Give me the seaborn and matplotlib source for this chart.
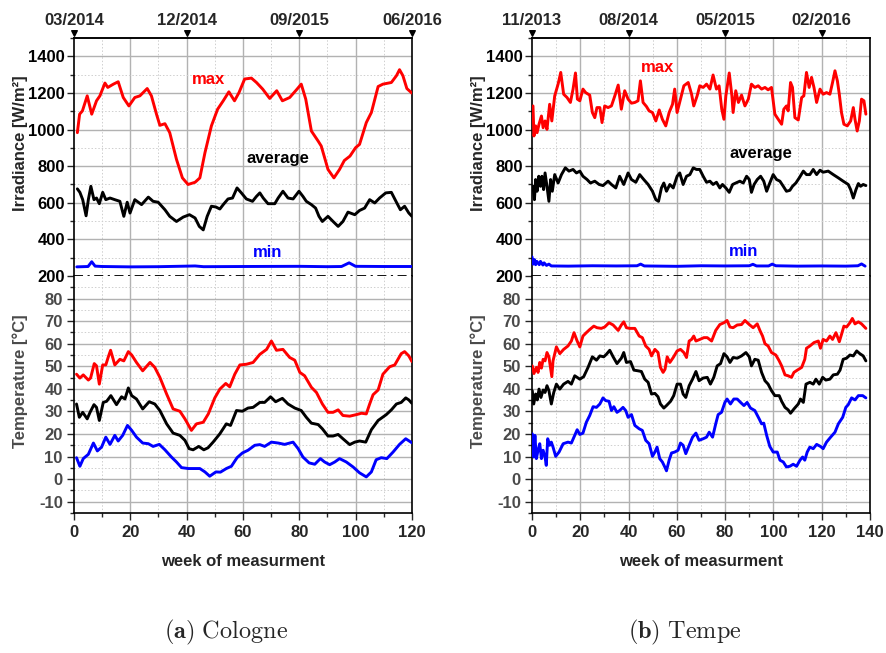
import matplotlib
matplotlib.use("Agg")
import numpy as np
import matplotlib.pyplot as plt
import seaborn as sns
from matplotlib.ticker import FixedLocator

# ---------------- Cologne ----------------
col_dates_wk = [0, 40, 80, 120]
col_dates = ["03/2014", "12/2014", "09/2015", "06/2016"]

col_irr_max_wk = [1.2, 2, 3, 4.7, 6.3, 8, 9.2, 11, 12, 14, 15.7, 17.5, 19.5, 21.6, 23.4, 26, 27.5, 29.3, 30.5, 32.3,
                  34, 36.4, 38.5, 40.5, 43, 44.7, 46.5, 48.8, 51, 53, 55, 57, 58.6, 60.6, 63, 64.8, 67, 69.5, 72, 74,
                  76.6, 79, 80.7, 82.3, 84.3, 86.7, 87.8, 90.2, 92.3, 94.3, 96, 98, 100, 101.4, 103.8, 105.6, 108,
                  109.7, 112.7, 114.5, 115.6, 116.8, 118.2, 120]
col_irr_max = [983, 1084, 1102, 1184, 1084, 1157, 1184, 1254, 1230, 1248, 1261, 1175, 1129, 1175, 1184, 1224, 1184,
               1084, 1023, 1032, 983, 837, 736, 700, 712, 736, 873, 1020, 1111, 1157, 1206, 1157, 1202, 1276, 1281,
               1257, 1221, 1170, 1212, 1157, 1175, 1217, 1248, 1166, 992, 937, 910, 782, 736, 782, 831, 855, 901,
               919, 1038, 1093, 1235, 1248, 1257, 1294, 1327, 1294, 1224, 1199]

col_irr_avg_wk = [1.2, 2.1, 3.1, 4.3, 5.1, 6, 7.1, 8, 9, 10.2, 11.3, 12.8, 14.5, 16.3, 17.7, 18.9, 19.9, 21.6, 24,
                  26.4, 28.1, 29.9, 32.3, 34, 36.4, 38.8, 41, 43, 44.5, 45.9, 47.3, 48.8, 50.4, 51.8, 53, 54.7, 56.3,
                  57.9, 59.5, 61.2, 63.4, 64.8, 66, 67.2, 68.9, 71.3, 72.5, 74.2, 76, 77.8, 79.9, 81.3, 82.5, 84.3,
                  85.8, 87, 88.2, 90.2, 92, 93.8, 95.5, 97.3, 99.7, 101.4, 103.2, 105, 106.8, 108.5, 110.7, 112.7,
                  114.5, 115.9, 117.4, 118.9, 120]
col_irr_avg = [676, 657, 617, 529, 617, 690, 617, 626, 595, 657, 617, 626, 617, 608, 526, 603, 544, 617, 590, 631,
               608, 603, 562, 526, 498, 522, 535, 517, 471, 452, 526, 581, 577, 566, 590, 621, 626, 681, 653, 621,
               608, 635, 654, 626, 595, 595, 626, 663, 626, 621, 663, 635, 608, 590, 571, 526, 498, 526, 498, 471,
               498, 549, 535, 558, 571, 617, 599, 626, 654, 657, 603, 562, 581, 544, 526]

col_irr_min_wk = [1, 5, 6.3, 7.5, 10, 20, 30, 40, 43, 46, 60, 80, 90, 95, 97.7, 100, 110, 120]
col_irr_min = [250, 252, 278, 254, 252, 250, 251, 254, 255, 251, 252, 253, 251, 252, 272, 253, 252, 252]

col_t_max_wk = [0.9, 2.1, 3.3, 5.1, 5.9, 7.2, 8, 9, 10.2, 11.3, 12.2, 13, 14.5, 16.3, 17.7, 19.3, 20.5, 22.2, 24.4,
                27, 28.7, 30.5, 32.9, 35.2, 37.6, 39.4, 41.7, 43.5, 45.9, 47.7, 50, 51.8, 53.9, 55.3, 57.1, 58.9,
                61.2, 63.6, 66, 68.4, 70.1, 71.9, 74.2, 76.6, 78.4, 80.2, 81.9, 84.3, 86.1, 88.2, 90.2, 92, 93.8,
                95.5, 97.9, 100.3, 102.1, 103.8, 105, 106.2, 108, 109.7, 112.1, 113.9, 116.2, 117.4, 118.9, 120]
col_t_max = [46.5, 44.8, 46.2, 43.9, 44.8, 51.2, 50.2, 42.1, 50.6, 50.6, 54.2, 57.1, 50.6, 53.1, 52.4, 56.5, 55,
             51.7, 48, 51.7, 49.5, 45.1, 37.7, 31.1, 30.1, 26.7, 21.6, 24.5, 25.2, 28.9, 36, 39.9, 42.4, 40.9, 46.5,
             50.6, 50.9, 51.7, 55.3, 57.5, 61.2, 57.1, 57.5, 53.9, 52.7, 47.3, 45.8, 40.7, 38.4, 33.3, 29.6, 29.6,
             30.7, 28.2, 27.9, 28.6, 29.2, 28.9, 33.3, 37.4, 39.5, 46.5, 49.8, 50.6, 55.6, 56.5, 54.6, 52.1]

col_t_avg_wk = [0.9, 1.9, 3.1, 4.7, 5.7, 7.1, 8, 9, 10.4, 11.6, 13.1, 15.1, 16.9, 18.1, 19.3, 20.5, 22.2, 24.4, 26.7,
                28.7, 30.5, 32.9, 35.2, 37.6, 39.4, 40.9, 42.3, 44.3, 46.1, 47.6, 49.4, 51.8, 54.1, 55.6, 57.7, 59.8,
                61.8, 63.6, 66, 67.7, 69.8, 71.6, 74, 76, 78.4, 80.7, 82.5, 84.3, 86.7, 88.2, 90.2, 92, 93.8, 95.5,
                97.9, 99.7, 101.4, 103.6, 105.6, 108, 110.9, 112.7, 114.5, 116.2, 117.8, 118.9, 120]
col_t_avg = [33.3, 27.4, 29.6, 26.7, 29.6, 33, 31.8, 26, 34, 34.5, 37, 33, 36.5, 35.5, 40.4, 37, 35.5, 31.1, 34.3,
             33.3, 30.4, 24.5, 20.4, 19.4, 17.2, 13.5, 13, 14.5, 13, 13.9, 16.4, 20.1, 24.5, 23.8, 30.4, 30.1, 31.5,
             31.8, 34, 34, 36.5, 34.3, 35.8, 33.3, 31.5, 30.4, 27.4, 24.8, 24.2, 22.3, 19.1, 19.1, 19.8, 17.9, 15.3,
             16.4, 16.9, 16.4, 21.9, 26, 28.6, 30.7, 33.3, 34, 36, 35.1, 33.6]

col_t_min_wk = [0.9, 2.1, 3.3, 5.1, 6.9, 8.3, 9.8, 11.3, 12.8, 14.5, 15.7, 17.3, 19, 20.5, 22.2, 24.4, 26.4, 28.1,
                30.3, 32.3, 34.6, 36.4, 38.2, 40.6, 42.3, 44.7, 46.5, 48.2, 50.4, 52, 54.1, 55.9, 57.9, 59.8, 61.8,
                64.2, 66, 67.7, 70.1, 72.5, 74.8, 77.8, 79.6, 81.3, 83.5, 85.5, 87.5, 89, 90.8, 92.6, 94.3, 96.7,
                99.1, 101.4, 103.8, 105.6, 107.3, 109.1, 111.1, 113.3, 115.6, 117.8, 120]
col_t_min = [9.5, 5.7, 9.1, 11, 16, 12.5, 14.2, 18.6, 15.4, 19.4, 16.9, 19.4, 23.8, 21.6, 18.6, 16, 15.7, 14.5, 15.4,
             13, 9.8, 7.6, 5.1, 4.7, 4.7, 4.7, 3.2, 1.3, 3.2, 3.1, 4.7, 5.7, 9.5, 11.6, 12.8, 15, 15.3, 14.5, 16.4,
             16, 15.4, 16.4, 13.5, 9.8, 7.2, 6.6, 9.1, 7.6, 6.4, 7.6, 9.1, 7.6, 5.4, 2.8, 1, 3.2, 8.6, 9.5, 9.1, 12,
             15.4, 17.9, 16.1]

# ---------------- Tempe ----------------
tem_dates_wk = [0, 40, 80, 120]
tem_dates = ["11/2013", "08/2014", "05/2015", "02/2016"]

tem_irr_max_wk = [0.4, 0.8, 1.5, 2.1, 2.9, 3.9, 4.6, 5.4, 6.2, 7.3, 8.2, 9.4, 10.8, 11.9, 13.1, 14.5, 15.9, 17, 18,
                  18.8, 19.8, 21.1, 22.2, 23.9, 25, 26, 26.9, 28.1, 29, 30.1, 31.5, 32.9, 34.3, 35.7, 37, 38.4, 39.8,
                  41.2, 42.6, 43.9, 44.9, 46, 47.4, 48.5, 49.9, 51.3, 52.7, 54, 55.4, 56.8, 58.2, 59.1, 60.1, 61.5,
                  62.9, 64.7, 66.1, 67, 68.4, 69.5, 70.9, 72.3, 73.7, 75, 76.4, 77.5, 78.6, 79.5, 80.3, 81.7, 82.8,
                  83.3, 84.4, 85.5, 86.8, 88.2, 89.6, 90.9, 92.3, 93.7, 95.1, 96.5, 97.8, 99.2, 100.6, 102, 103.4,
                  104.3, 105.4, 106.1, 107.1, 107.9, 108.9, 110.3, 111.7, 112.6, 113.7, 114.8, 115.8, 116.8, 117.9,
                  119.3, 120.6, 122, 123.4, 124.5, 125.5, 126.5, 127.3, 128.2, 129.2, 130.6, 132, 133.1, 133.8,
                  134.7, 135.6, 136.5, 137.5, 138.3]
tem_irr_max = [1129, 965, 1020, 983, 1029, 1074, 1010, 1047, 1001, 1138, 1047, 1184, 1248, 1312, 1193, 1175, 1148,
               1221, 1309, 1166, 1157, 1221, 1202, 1188, 1093, 1065, 1120, 1120, 1038, 1129, 1120, 1129, 1184, 1243,
               1111, 1212, 1166, 1144, 1148, 1157, 1266, 1148, 1126, 1102, 1093, 1047, 1107, 1056, 1020, 1093, 1138,
               1221, 1093, 1166, 1239, 1257, 1193, 1129, 1184, 1239, 1230, 1248, 1221, 1298, 1221, 1239, 1111, 1056,
               1184, 1309, 1184, 1093, 1212, 1148, 1188, 1129, 1166, 1248, 1230, 1239, 1221, 1230, 1217, 1230, 1084,
               1056, 1029, 1111, 1129, 1102, 1257, 1230, 1065, 1052, 1175, 1184, 1312, 1230, 1285, 1230, 1148, 1221,
               1193, 1202, 1193, 1257, 1321, 1266, 1193, 1093, 1029, 1020, 1047, 1120, 1056, 992, 1047, 1166, 1157,
               1084]

tem_irr_avg_wk = [0.4, 1, 1.5, 2.1, 2.8, 3.5, 4.1, 4.8, 5.4, 6.2, 7, 7.7, 8.4, 9.4, 10.8, 12.2, 13.8, 15.3, 17, 18.4,
                  19.8, 21.1, 22.8, 24.2, 26, 27.8, 29.4, 31.5, 32.9, 34.7, 36.3, 38, 39.8, 41.2, 43, 44.6, 46.3,
                  48.1, 49.9, 51.3, 52.4, 53.6, 54.6, 55.7, 57.1, 58.5, 60.1, 61.2, 62.6, 64, 65.4, 66.8, 68.1, 69.5,
                  70.9, 72.3, 73.7, 75, 76.4, 77.8, 78.9, 80.3, 81.7, 83.1, 84.4, 86.1, 87.5, 88.9, 90, 90.9, 92,
                  93.3, 94.7, 96, 97.2, 98.5, 99.9, 101.3, 102.7, 104.1, 105.4, 106.8, 107.9, 109.3, 110.7, 112.4,
                  113.7, 115.1, 116.5, 117.9, 119.3, 120.6, 122.7, 124.8, 126.9, 128.9, 131, 132, 133.1, 134.2,
                  135.2, 136.1, 137.2, 138.3]
tem_irr_avg = [690, 617, 727, 663, 745, 690, 745, 672, 763, 690, 608, 727, 663, 754, 708, 754, 791, 773, 782, 763,
               773, 745, 727, 708, 718, 700, 694, 718, 700, 681, 745, 700, 763, 727, 712, 754, 727, 700, 663, 617,
               608, 681, 708, 663, 700, 681, 745, 763, 700, 745, 754, 791, 782, 782, 745, 712, 718, 700, 712, 681,
               700, 681, 657, 700, 708, 718, 708, 745, 727, 657, 700, 727, 745, 718, 663, 708, 754, 727, 718, 690,
               663, 668, 690, 708, 736, 773, 754, 754, 782, 754, 778, 767, 773, 754, 736, 718, 700, 672, 626, 672,
               705, 690, 700, 694]

tem_irr_min_wk = [0, 0.5, 1, 1.5, 2, 3, 3.5, 4.5, 5, 6, 7, 8, 15, 25, 35, 43.5, 45, 46.5, 60, 70, 80, 90, 91.5, 93,
                  98, 99.5, 101, 110, 120, 130, 135, 136.5, 138]
tem_irr_min = [305, 265, 290, 262, 280, 262, 280, 260, 272, 258, 265, 255, 254, 256, 255, 256, 265, 255, 253, 256,
               255, 256, 264, 255, 255, 265, 256, 254, 255, 254, 256, 266, 254]

tem_t_max_wk = [0.1, 0.8, 1.8, 2.5, 3.2, 3.9, 4.6, 5.4, 6.2, 7, 8.2, 8.7, 10.1, 11.5, 13.1, 14.9, 16.3, 17.4, 18.7,
                19.8, 21.1, 22.5, 23.9, 25.6, 26.9, 28.7, 30.1, 31.9, 33.6, 35.7, 37, 38, 39.1, 40.5, 42.6, 44.4,
                45.7, 47.1, 48.5, 49.5, 50.9, 52.2, 53.2, 54.3, 55.1, 56, 57.1, 58.5, 60.1, 61.5, 62.9, 64, 65.1,
                66.1, 67, 67.9, 69.5, 71.2, 72.6, 74.4, 76.1, 77.8, 79.5, 80.8, 82, 83.3, 85, 86.8, 88.2, 90, 91.6,
                93.3, 94.4, 95.5, 96.5, 97.8, 99.2, 101, 102.4, 103.4, 104.8, 106.1, 107.5, 108.5, 109.9, 111.7,
                113, 113.7, 115.1, 116.8, 118.6, 119.5, 120.6, 122, 123.4, 124.5, 125.9, 127.3, 128.2, 129.2, 130.3,
                131.7, 132.7, 133.8, 135.2, 136.5, 138.3]
tem_t_max = [50.2, 46.8, 49.5, 47.3, 51.7, 49.2, 53.1, 52.4, 56.1, 54.2, 45.4, 52.4, 58.6, 55.6, 57.5, 59, 61.2,
             64.9, 61.2, 58.6, 63.4, 64.9, 66.3, 67.8, 67.1, 66.8, 67.4, 69.3, 68.3, 65.9, 68.3, 69.7, 67.1, 66.8,
             66.8, 63.4, 62.7, 59, 57.5, 54.6, 57.5, 56.1, 49.5, 47.3, 48.7, 54.2, 51.7, 53.9, 56.8, 57.5, 56.1,
             53.9, 61.2, 61.9, 63.4, 61.2, 61.9, 62.7, 62.7, 61.2, 65.9, 68.5, 69.3, 70.3, 67.4, 67.1, 68.3, 68.5,
             70.3, 68.5, 67.1, 68.8, 65.9, 63.4, 60, 59, 56.1, 55, 52.4, 50.2, 46.2, 45.8, 45.1, 47.3, 48.3, 49.5,
             53.1, 58, 59, 60.5, 61.2, 58, 61.9, 61.2, 63.4, 61.9, 64.9, 60.9, 64.1, 67.8, 67.4, 69.3, 71.2, 68.8,
             69.7, 68.8, 66.8]

tem_t_avg_wk = [0.1, 0.7, 1.5, 2.2, 2.9, 3.7, 4.6, 5.4, 6.2, 7, 8, 9, 10.1, 11.5, 13.1, 14.9, 16.3, 17.7, 19.8, 21.4,
                23.2, 25, 26.7, 28.1, 29.7, 30.8, 32.2, 33.6, 35.2, 37, 38, 39.1, 40.8, 42.2, 43.9, 45.3, 46.7, 48.1,
                49.5, 50.9, 52.2, 53.2, 54.6, 55.7, 57.4, 58.7, 60.1, 61.5, 62.6, 63.7, 65.1, 66.5, 67.9, 69.2, 70.9,
                72.6, 73.9, 75.3, 76.7, 78.1, 79.5, 80.8, 82, 83.3, 85, 86.8, 88.6, 90, 90.9, 92.3, 93.7, 95.1, 96.5,
                97.8, 99.2, 100.6, 102.4, 103.4, 104.8, 106.1, 107.1, 108.5, 110.3, 111.2, 112.4, 113.5, 115.1,
                116.5, 117.6, 119, 120.4, 121.7, 123.4, 124.8, 126.5, 127.6, 128.9, 130.3, 131.7, 133.1, 134.5,
                135.8, 137.2, 138.3]
tem_t_avg = [39.2, 33.3, 37.7, 35.1, 39.9, 36.2, 39.5, 38.4, 41.4, 39.2, 33.3, 38.4, 42.1, 39.9, 42.1, 43.3, 42.1,
             45.8, 44.3, 45.4, 49.5, 54.2, 52.7, 54.6, 54.2, 55.3, 57.1, 54.2, 51.2, 53.6, 56.1, 51.7, 52.1, 48.3, 48,
             47.7, 44.3, 42.9, 37.7, 38, 36.5, 33.3, 31.5, 32.6, 34.5, 37, 42.1, 42.1, 37.7, 36.2, 41.4, 44.3, 47.7,
             43.6, 44.8, 45.1, 42.1, 45.1, 50.2, 51.2, 55.6, 54.2, 51.7, 53.9, 53.6, 54.6, 56.1, 54.2, 50.2, 53.1,
             52.7, 47.3, 43.6, 42.1, 39.2, 37, 37, 34.5, 31.8, 30.7, 29.2, 31.1, 33.3, 35.5, 34, 42.1, 42.9, 42.1,
             44.3, 42.1, 45.1, 43.9, 44.3, 46.2, 46.5, 48.3, 53.1, 53.6, 55, 54.6, 56.8, 55.6, 54.6, 52.4]

tem_t_min_wk = [0.1, 0.7, 1.2, 1.8, 2.5, 3.2, 3.9, 4.6, 5.4, 5.9, 6.5, 7.3, 8, 8.7, 9.8, 11.2, 12.9, 14.9, 16.3, 17.7,
                18.7, 19.8, 21.1, 22.5, 23.9, 25.3, 26.7, 28.1, 29.4, 30.5, 31.9, 32.9, 33.9, 35.2, 36.3, 37.7, 38.8,
                39.8, 41.2, 42.6, 44.4, 45.7, 47.1, 48.5, 49.9, 50.9, 51.8, 52.9, 54, 55, 55.7, 56.8, 57.8, 59.1,
                60.5, 61.5, 62.6, 63.7, 65.1, 66.5, 67.9, 69.2, 70.9, 72.3, 73.4, 74.8, 76.1, 77.1, 78.5, 79.9, 80.8,
                82.2, 83.6, 85, 86.4, 87.8, 89.1, 90.5, 92.3, 94.1, 95.1, 96, 97.2, 98.5, 99.9, 101.6, 102.7, 104.1,
                105.4, 106.8, 108.2, 109.6, 111, 112.1, 113, 114, 115.1, 116.5, 117.9, 119.5, 120.6, 122, 123.7,
                125.5, 126.9, 128.7, 130, 131, 132.4, 133.8, 135.2, 137, 138.3]
tem_t_min = [20.1, 9.8, 19.4, 9.1, 12.8, 15.7, 9.1, 12.8, 9.8, 6.1, 17.9, 15, 16.4, 14.2, 10.1, 12, 15.7, 16.4, 16,
             19.4, 21.9, 19.8, 20.4, 25.2, 28.2, 32.1, 31.8, 33.3, 36, 34.8, 34.5, 30.4, 32.1, 29.6, 30.4, 31.8,
             30.4, 27.4, 28.6, 23.8, 22.3, 21.6, 17.2, 15.7, 10.1, 12, 14.2, 9.1, 7.6, 5.4, 3.7, 8.4, 11.6, 12, 12.8,
             16, 15, 11.3, 15, 18.6, 20.4, 17.2, 17.9, 18.6, 20.8, 18.6, 24.5, 28.6, 29.6, 34, 35.5, 33.3, 35.5,
             35.5, 34, 32.6, 34, 31.5, 30.4, 26.7, 24.5, 24.8, 19.4, 14.5, 12, 12, 8.4, 7.6, 5.4, 5.7, 6.6, 5.7, 8.4,
             9.8, 8.4, 12, 14.2, 13.5, 15.4, 14.5, 13.5, 16.4, 18.6, 20.8, 24.5, 27.4, 31.8, 33, 36, 35.1, 37, 37,
             36]

series_names = ["max", "average", "min"]
series_colors = ["#ff0000", "#000000", "#0000ff"]

sns.set_theme(style="ticks")
plt.rcParams.update({
    "font.family": ["Liberation Sans", "DejaVu Sans"],
    "font.weight": "bold",
    "axes.labelweight": "bold",
    "axes.unicode_minus": False,
    "mathtext.fontset": "cm",
})

GRID_MAJOR = dict(color="#b2b2b2", lw=1.0, zorder=0)
GRID_MINOR = dict(color="#cfcfcf", lw=0.7, ls=(0, (1.5, 2.0)), zorder=0)
TEMP_GRAY = "#4a4a4a"
LW = 2.1
TICK_FS = 12

fig = plt.figure(figsize=(8.87, 6.53), dpi=100)


def panel(x0, wmax, dates_wk, dates, irr, temp, label_pos):
    width = 0.381
    ax_i = fig.add_axes([x0, 0.5773, width, 0.3645])
    ax_t = fig.add_axes([x0, 0.2144, width, 0.3629])

    # background grids
    for ax in (ax_i, ax_t):
        for w in np.arange(20, wmax, 20):
            ax.axvline(w, **GRID_MAJOR)
        for w in np.arange(10, wmax, 20):
            ax.axvline(w, **GRID_MINOR)
    for v in range(400, 1500, 200):
        ax_i.axhline(v, **GRID_MAJOR)
    for v in range(300, 1500, 200):
        ax_i.axhline(v, **GRID_MINOR)
    for v in range(-10, 90, 10):
        ax_t.axhline(v, **GRID_MAJOR)
    for v in range(-5, 90, 10):
        ax_t.axhline(v, **GRID_MINOR)

    # curves
    line_kw = dict(lw=LW, sort=False, estimator=None, legend=False, zorder=3,
                   solid_joinstyle="round", solid_capstyle="round")
    for (wk, vals), c in zip(irr, series_colors):
        sns.lineplot(x=wk, y=vals, ax=ax_i, color=c, **line_kw)
    for (wk, vals), c in zip(temp, series_colors):
        sns.lineplot(x=wk, y=vals, ax=ax_t, color=c, **line_kw)

    for name, c, (lx, ly) in zip(series_names, series_colors, label_pos):
        ax_i.text(lx, ly, name, color=c, fontsize=12, fontweight="bold", ha="center", va="center", zorder=4)

    # irradiance scale
    ax_i.set_xlim(0, wmax)
    ax_i.set_ylim(200, 1500)
    ax_i.yaxis.set_major_locator(FixedLocator(list(range(200, 1401, 200))))
    ax_i.yaxis.set_minor_locator(FixedLocator(list(range(300, 1501, 200))))
    ax_i.tick_params(axis="y", which="major", direction="out", length=5, width=1, pad=1.5,
                     labelsize=TICK_FS, labelcolor="black", left=True, right=False)
    ax_i.tick_params(axis="y", which="minor", direction="out", length=3, width=1, left=True, right=False)
    ax_i.tick_params(axis="x", which="both", bottom=False, labelbottom=False, top=False)
    ax_i.spines["bottom"].set_visible(False)
    ax_i.axhline(200, color="black", lw=1.3, ls=(0, (5, 2.5, 1.2, 2.5)), zorder=5, clip_on=False)
    ax_i.set_ylabel("Irradiance [W/m²]", fontsize=12, fontweight="bold")
    ax_i.yaxis.set_label_coords(-0.137, 0.56)
    ax_i.set_xlabel("")

    # month markers along the top edge
    top = ax_i.secondary_xaxis("top")
    top.set_xticks(dates_wk)
    top.set_xticklabels(dates, fontsize=12, fontweight="bold")
    top.tick_params(length=0, pad=7)
    ax_i.scatter(dates_wk, [1.022] * len(dates_wk), transform=ax_i.get_xaxis_transform(),
                 marker="v", s=16, color="black", clip_on=False, zorder=6)

    # temperature scale
    ax_t.set_xlim(0, wmax)
    ax_t.set_ylim(-15, 90)
    ax_t.yaxis.set_major_locator(FixedLocator(list(range(-10, 81, 10))))
    ax_t.yaxis.set_minor_locator(FixedLocator(list(range(-15, 90, 10))))
    ax_t.xaxis.set_major_locator(FixedLocator(list(range(0, wmax + 1, 20))))
    ax_t.xaxis.set_minor_locator(FixedLocator(list(range(10, wmax, 20))))
    ax_t.tick_params(axis="y", which="major", direction="out", length=5, width=1, pad=3,
                     labelsize=TICK_FS, labelcolor=TEMP_GRAY, left=True, right=False)
    ax_t.tick_params(axis="y", which="minor", direction="out", length=3, width=1, left=True, right=False)
    ax_t.tick_params(axis="x", which="major", direction="out", length=5, width=1, pad=4,
                     labelsize=TICK_FS, bottom=True, top=False)
    ax_t.tick_params(axis="x", which="minor", direction="out", length=3, width=1, bottom=True, top=False)
    ax_t.spines["top"].set_visible(False)
    ax_t.set_ylabel("Temperature [°C]", fontsize=12, fontweight="bold", color=TEMP_GRAY)
    ax_t.yaxis.set_label_coords(-0.137, 0.557)
    ax_t.set_xlabel("week of measurment", fontsize=12, fontweight="bold")
    ax_t.xaxis.set_label_coords(0.5, -0.175)

    for ax in (ax_i, ax_t):
        for s in ax.spines.values():
            s.set_color("black")
            s.set_linewidth(1.2)
    return ax_i, ax_t


panel(0.0834, 120, col_dates_wk, col_dates,
      [(col_irr_max_wk, col_irr_max), (col_irr_avg_wk, col_irr_avg), (col_irr_min_wk, col_irr_min)],
      [(col_t_max_wk, col_t_max), (col_t_avg_wk, col_t_avg), (col_t_min_wk, col_t_min)],
      [(47.9, 1274), (72.4, 841), (68.9, 326)])

panel(0.5998, 140, tem_dates_wk, tem_dates,
      [(tem_irr_max_wk, tem_irr_max), (tem_irr_avg_wk, tem_irr_avg), (tem_irr_min_wk, tem_irr_min)],
      [(tem_t_max_wk, tem_t_max), (tem_t_avg_wk, tem_t_avg), (tem_t_min_wk, tem_t_min)],
      [(52.1, 1340), (94.8, 869), (87.8, 332)])

fig.text(0.255, 0.031, r"$\mathbf{(a)}\ \mathrm{Cologne}$", fontsize=17.5, ha="center", va="center")
fig.text(0.772, 0.031, r"$\mathbf{(b)}\ \mathrm{Tempe}$", fontsize=17.5, ha="center", va="center")

fig.savefig("out.png", dpi=100)
